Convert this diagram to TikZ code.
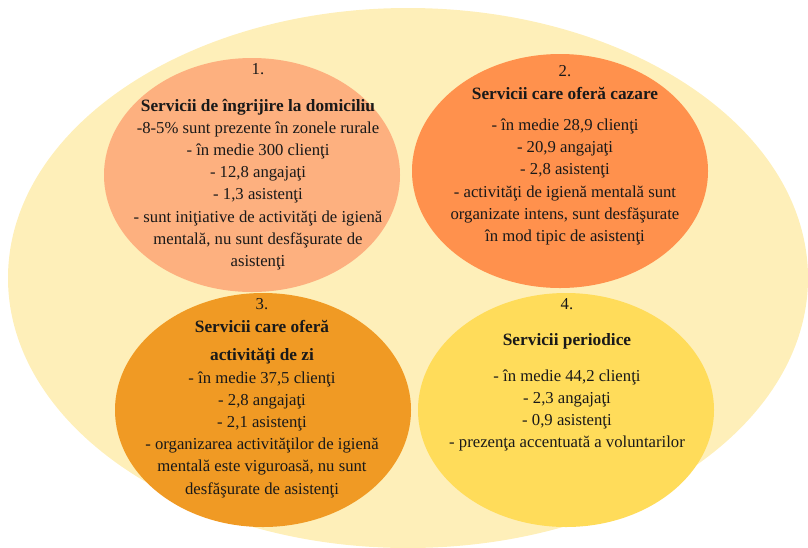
\documentclass[tikz,border=0pt]{standalone}
\usepackage{fontspec}
\setmainfont{Liberation Serif}
\usetikzlibrary{shapes.geometric}

\definecolor{backyellow}{HTML}{FEEFB9}
\definecolor{salmon}{HTML}{FDB07F}
\definecolor{deeporange}{HTML}{FF914D}
\definecolor{amber}{HTML}{F09A24}
\definecolor{sunyellow}{HTML}{FFDC5A}

\newcommand{\head}[1]{{\fontsize{17.3}{22.2}\selectfont\bfseries #1}}

\tikzset{
  blob/.style={ellipse, inner sep=0pt, minimum width=296pt, minimum height=234pt},
  info/.style={align=center, inner sep=0pt, text=black!90,
    font=\fontsize{16.7}{22.2}\selectfont}
}

\begin{document}
\begin{tikzpicture}[x=1pt,y=-1pt]
  \useasboundingbox (0,0) rectangle (808,547);
  % background
  \node[ellipse, fill=backyellow, inner sep=0pt, minimum width=800pt, minimum height=540pt] (bg) at (408,278) {};
  % the four groups
  \node[blob, fill=salmon] (e1) at (252,175) {};
  \node[blob, fill=deeporange] (e2) at (560,171) {};
  \node[blob, fill=amber] (e3) at (263,410) {};
  \node[blob, fill=sunyellow] (e4) at (566,410) {};

  \node[info] (t1) at (258,167) {1.\\[14pt]
    \head{Servicii de îngrijire la domiciliu}\\
    -8-5\% sunt prezente în zonele rurale\\
    - în medie 300 clienţi\\
    - 12,8 angajaţi\\
    - 1,3 asistenţi\\
    - sunt iniţiative de activităţi de igienă\\
    mentală, nu sunt desfăşurate de\\
    asistenţi};
  \node[info] (t2) at (565,155) {2.\\[1pt]
    \head{Servicii care oferă cazare}\\[9pt]
    - în medie 28,9 clienţi\\
    - 20,9 angajaţi\\
    - 2,8 asistenţi\\
    - activităţi de igienă mentală sunt\\
    organizate intens, sunt desfăşurate\\
    în mod tipic de asistenţi};
  \node[info] (t3) at (262,398) {3.\\[1pt]
    \head{Servicii care oferă}\\[6pt]
    \head{activităţi de zi}\\
    - în medie 37,5 clienţi\\
    - 2,8 angajaţi\\
    - 2,1 asistenţi\\
    - organizarea activităţilor de igienă\\
    mentală este viguroasă, nu sunt\\
    desfăşurate de asistenţi};
  \node[info] (t4) at (567,375) {4.\\[14pt]
    \head{Servicii periodice}\\[13pt]
    - în medie 44,2 clienţi\\
    - 2,3 angajaţi\\
    - 0,9 asistenţi\\
    - prezenţa accentuată a voluntarilor};
\end{tikzpicture}
\end{document}
